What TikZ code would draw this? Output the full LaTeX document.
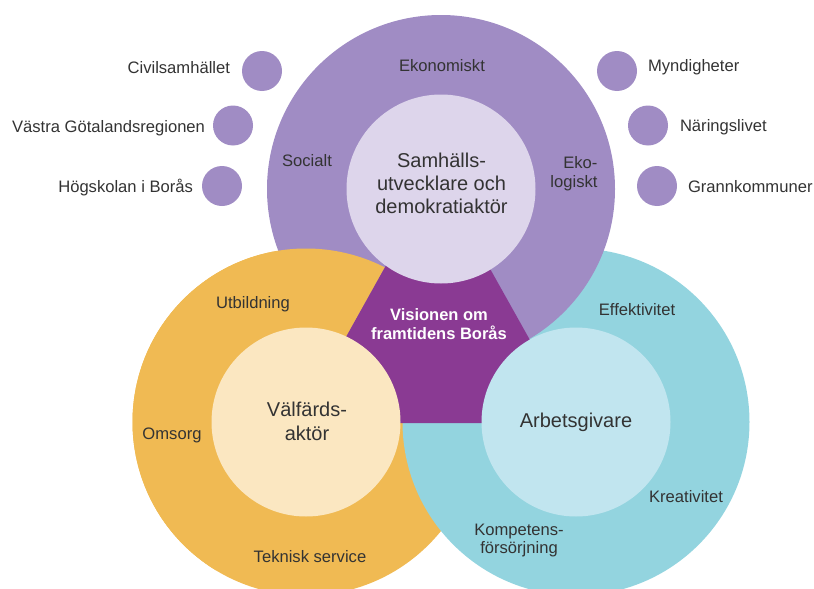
\documentclass[tikz,border=0pt]{standalone}
\usepackage{fontspec}
\setmainfont{Liberation Sans}
\definecolor{bigpurple}{HTML}{A08CC4}
\definecolor{innerpurple}{HTML}{DDD5EB}
\definecolor{darkpurple}{HTML}{8A3A93}
\definecolor{bigorange}{HTML}{F0BA53}
\definecolor{innerorange}{HTML}{FBE7C1}
\definecolor{bigblue}{HTML}{93D4DF}
\definecolor{innerblue}{HTML}{C1E5EF}
\definecolor{txt}{HTML}{333333}
\begin{document}
\begin{tikzpicture}[x=1pt,y=-1pt,
  lbl/.style={text=txt,font=\fontsize{16.6}{19.4}\selectfont,inner sep=0pt,outer sep=0pt},
  biglbl/.style={text=txt,font=\fontsize{20}{22.8}\selectfont,inner sep=0pt,outer sep=0pt,align=center},
  dot/.style={circle,fill=bigpurple,minimum size=40pt,inner sep=0pt}]
\useasboundingbox (0,0) rectangle (814,589);
\coordinate (P) at (441,189);
\coordinate (O) at (306,422);
\coordinate (B) at (576,422);
% big circles (cyclic overlap handled by clipping)
\fill[bigorange] (O) circle[radius=173.5];
\fill[bigblue] (B) circle[radius=173.5];
\fill[bigpurple] (P) circle[radius=174];
\begin{scope}
  \clip (715,-324) -- (20,921) -- (-500,921) -- (-500,-324) -- cycle;
  \fill[bigorange] (O) circle[radius=173.5];
\end{scope}
% central region
\fill[darkpurple] (437,174) -- (298,423) -- (576.4,423) -- cycle;
% inner circles
\fill[innerpurple] (P) circle[radius=94.5];
\fill[innerorange] (O) circle[radius=94.5];
\fill[innerblue] (B) circle[radius=94.5];
% small circles
\node[dot] (d1) at (262,71) {};
\node[dot] (d2) at (233,125.5) {};
\node[dot] (d3) at (222,186) {};
\node[dot] (d4) at (617,71) {};
\node[dot] (d5) at (648,125.5) {};
\node[dot] (d6) at (657,186) {};
% outer labels
\node[lbl,anchor=base east] (l1) at (230,73.5) {Civilsamhället};
\node[lbl,anchor=base east] (l2) at (205,132) {Västra Götalandsregionen};
\node[lbl,anchor=base east] (l3) at (193,192) {Högskolan i Borås};
\node[lbl,anchor=base west] (l4) at (648,71) {Myndigheter};
\node[lbl,anchor=base west] (l5) at (680,131.5) {Näringslivet};
\node[lbl,anchor=base west] (l6) at (688,192) {Grannkommuner};
% ring labels
\node[lbl,anchor=base] (ekon) at (442,71) {Ekonomiskt};
\node[lbl,anchor=base] (soc) at (307,166) {Socialt};
\node[lbl,anchor=east,align=right] (ekol) at (597.5,174) {Eko-\\logiskt};
\node[lbl,anchor=base] (utb) at (253,308) {Utbildning};
\node[lbl,anchor=base] (oms) at (172,439) {Omsorg};
\node[lbl,anchor=base] (tek) at (310,562) {Teknisk service};
\node[lbl,anchor=base] (eff) at (637,315) {Effektivitet};
\node[lbl,anchor=base] (kre) at (686,502) {Kreativitet};
\node[lbl,align=center,font=\fontsize{16.6}{18}\selectfont] (komp) at (519,540.5) {Kompetens-\\försörjning};
% inner labels
\node[biglbl] (samh) at (441.5,183.5) {Samhälls-\\utvecklare och\\demokratiaktör};
\node[biglbl,font=\fontsize{20}{24}\selectfont] (valf) at (307,421.5) {Välfärds-\\aktör};
\node[biglbl,anchor=base] (arb) at (576,427) {Arbetsgivare};
\node[align=center,text=white,inner sep=0pt,font=\fontsize{16.5}{19.3}\bfseries] (vis) at (439,323.8) {Visionen om\\framtidens Borås};
\end{tikzpicture}
\end{document}
